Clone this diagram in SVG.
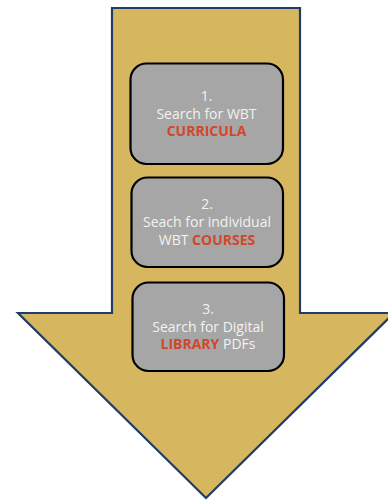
<svg xmlns="http://www.w3.org/2000/svg" width="388" height="500" viewBox="0 0 388 500">
<style>
.arrow{fill:#d6b760;stroke:#1f3d66;stroke-width:2.2;stroke-linejoin:miter}
.box{fill:#a6a6a6;stroke:#000;stroke-width:2.2}
.t{font-family:"Open Sans","Liberation Sans",sans-serif;font-size:14px;fill:#f2f2f2;text-anchor:middle}
.r{fill:#d2462c;font-weight:bold}
</style>
<rect width="388" height="500" fill="#fff"/>
<g id="arrow">
<polygon class="arrow" points="112,8 300,8 300,313 394,313 206,498 18,313 112,313"/>
</g>
<g id="connectors"></g>
<g id="step1">
<rect class="box" x="130.5" y="63.5" width="152.5" height="100.5" rx="16"/>
<text class="t" x="206.5" y="101">1.</text>
<text class="t" x="206.5" y="118.5">Search for WBT</text>
<text class="t" x="206.5" y="136"><tspan class="r">CURRICULA</tspan></text>
</g>
<g id="step2">
<rect class="box" x="131.5" y="177.5" width="151.5" height="89.5" rx="16"/>
<text class="t" x="207" y="209">2.</text>
<text class="t" x="207" y="227">Seach for individual</text>
<text class="t" x="207" y="245">WBT <tspan class="r">COURSES</tspan></text>
</g>
<g id="step3">
<rect class="box" x="132.5" y="282.5" width="151.5" height="88.5" rx="16"/>
<text class="t" x="208" y="314">3.</text>
<text class="t" x="208" y="331.5">Search for Digital</text>
<text class="t" x="208" y="349"><tspan class="r">LIBRARY</tspan> PDFs</text>
</g>
</svg>
